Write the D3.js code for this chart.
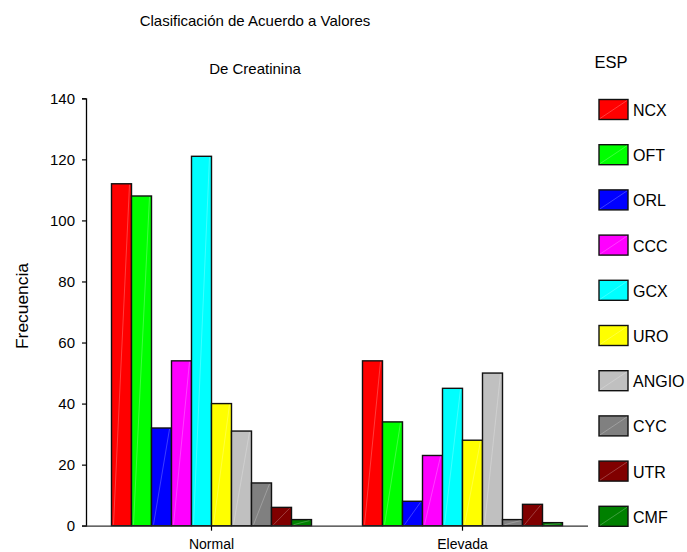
<!DOCTYPE html>
<html>
<head>
<meta charset="utf-8">
<script src="https://cdn.jsdelivr.net/npm/d3@7"></script>
<style>
  html, body { margin: 0; padding: 0; background: #fff; }
  svg { display: block; font-family: "Liberation Sans", Arial, sans-serif; }
</style>
</head>
<body>
<svg id="chart" width="687" height="552"></svg>
<script>
// Creatinine classification by specialty (ESP)
const groups = ["Normal", "Elevada"];
const series = ["NCX", "OFT", "ORL", "CCC", "GCX", "URO", "ANGIO", "CYC", "UTR", "CMF"];
const colors = ["#FF0000", "#00FF00", "#0000FF", "#FF00FF", "#00FFFF", "#FFFF00", "#C0C0C0", "#808080", "#800000", "#008000"];
const normalValues  = [112, 108, 32, 54, 121, 40, 31, 14, 6, 2];
const elevadaValues = [54, 34, 8, 23, 45, 28, 50, 2, 7, 1];
const yTicks = [0, 20, 40, 60, 80, 100, 120, 140];

const valuesByGroup = { "Normal": normalValues, "Elevada": elevadaValues };

const svg = d3.select("#chart");
const plotLeft = 86, plotRight = 588, plotTop = 98.3, plotBottom = 525.7;
const fontFam = "'Liberation Sans', Arial, sans-serif";

const x0 = d3.scaleBand().domain(groups).range([plotLeft, plotRight]).paddingInner(0).paddingOuter(0);
const groupWidth = 200;
const x1 = d3.scaleBand().domain(series).range([0, groupWidth]).padding(0);
const y = d3.scaleLinear().domain([0, 140]).range([plotBottom, plotTop]);

// Titles
svg.append("text").attr("x", 255).attr("y", 25.5).attr("text-anchor", "middle")
  .attr("font-size", 15).attr("fill", "#000").text("Clasificación de Acuerdo a Valores");
svg.append("text").attr("x", 255).attr("y", 73.5).attr("text-anchor", "middle")
  .attr("font-size", 15).attr("fill", "#000").text("De Creatinina");

// Y axis title
svg.append("text").attr("transform", "translate(28,306) rotate(-90)")
  .attr("text-anchor", "middle").attr("font-size", 17.4).attr("fill", "#000").text("Frecuencia");

// Bars
const barData = [];
groups.forEach(g => {
  const start = x0(g) + (x0.bandwidth() - groupWidth) / 2;
  series.forEach((s, i) => {
    barData.push({ g, s, i, v: valuesByGroup[g][i], x: start + x1(s) });
  });
});

const bars = svg.append("g");
const barG = bars.selectAll("g.bar").data(barData).enter().append("g").attr("class", "bar");
barG.append("rect")
  .attr("x", d => d.x)
  .attr("y", d => y(d.v))
  .attr("width", x1.bandwidth())
  .attr("height", d => y(0) - y(d.v))
  .attr("fill", d => colors[d.i])
  .attr("stroke", "#111")
  .attr("stroke-width", 1.4);
// subtle diagonal highlight inside each bar
barG.append("line")
  .attr("x1", d => d.x + 2).attr("y1", d => y(0) - 1)
  .attr("x2", d => d.x + x1.bandwidth() - 2).attr("y2", d => y(d.v) + 1)
  .attr("stroke", "#fff").attr("stroke-opacity", 0.3).attr("stroke-width", 0.8);

// Y axis
const yAxis = svg.append("g").attr("transform", `translate(${plotLeft},0)`)
  .call(d3.axisLeft(y).tickValues(yTicks).tickSize(4).tickPadding(7));
yAxis.select(".domain").attr("stroke", "#000").attr("stroke-width", 1.3);
yAxis.selectAll(".tick line").attr("stroke", "#000").attr("stroke-width", 1.2);
yAxis.selectAll(".tick text").attr("font-size", 15).attr("fill", "#000")
  .attr("font-family", fontFam);

// X axis
const xAxis = svg.append("g").attr("transform", `translate(0,${plotBottom})`)
  .call(d3.axisBottom(x0).tickSize(5).tickPadding(8).tickSizeOuter(0));
xAxis.select(".domain").attr("stroke", "#333").attr("stroke-width", 1.3)
  .attr("d", `M${plotLeft - 4},0.5H${plotRight}`);
xAxis.selectAll(".tick line").attr("stroke", "#000").attr("stroke-width", 1.2);
xAxis.selectAll(".tick text").attr("font-size", 14).attr("fill", "#000")
  .attr("font-family", fontFam);

// Legend
svg.append("text").attr("x", 611).attr("y", 68).attr("text-anchor", "middle")
  .attr("font-size", 16.5).attr("fill", "#000").text("ESP");
const legend = svg.append("g");
const lg = legend.selectAll("g").data(series).enter().append("g")
  .attr("transform", (d, i) => `translate(599,${99.5 + i * 45.2})`);
lg.append("rect").attr("width", 29).attr("height", 20)
  .attr("fill", (d, i) => colors[i]).attr("stroke", "#111").attr("stroke-width", 1.4);
lg.append("line").attr("x1", 1).attr("y1", 19).attr("x2", 28).attr("y2", 1)
  .attr("stroke", "#fff").attr("stroke-opacity", 0.3).attr("stroke-width", 0.8);
lg.append("text").attr("x", 34).attr("y", 16.5).attr("font-size", 16).attr("fill", "#000")
  .text(d => d);
</script>
</body>
</html>
